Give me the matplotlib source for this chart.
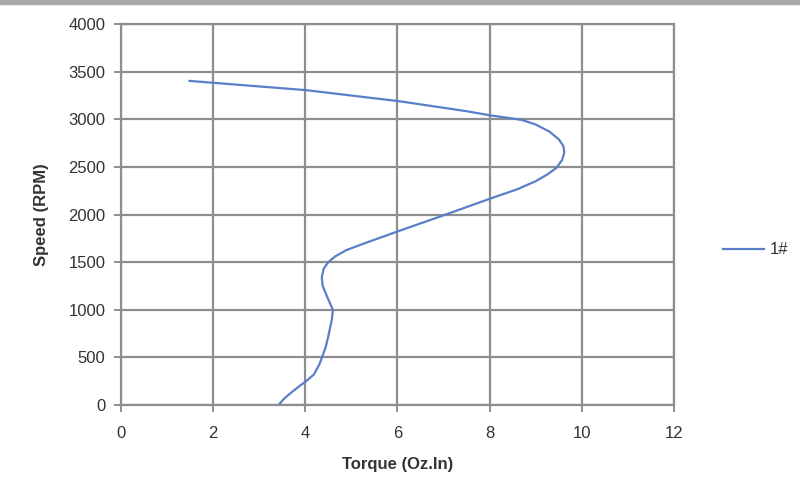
import matplotlib
matplotlib.use("Agg")
import matplotlib.pyplot as plt
from matplotlib.patches import Rectangle

# torque (oz.in) vs speed (rpm)
torque = [1.49, 4.02, 6.05, 7.50, 8.03, 8.40, 8.70, 9.00, 9.30, 9.50,
          9.60, 9.62, 9.57, 9.45, 9.25, 9.00, 8.60, 8.03, 7.05, 6.05,
          5.30, 4.89, 4.65, 4.50, 4.40, 4.36, 4.38, 4.48, 4.60, 4.58,
          4.50, 4.44, 4.31, 4.19, 4.02, 3.88, 3.73, 3.55, 3.42]
speed = [3403, 3306, 3189, 3085, 3040, 3015, 2993, 2945, 2870, 2790,
         2720, 2650, 2570, 2490, 2420, 2350, 2265, 2170, 2000, 1830,
         1700, 1626, 1560, 1500, 1430, 1340, 1250, 1132, 1000, 900,
         720, 601, 429, 321, 250, 200, 143, 70, 0]

x_ticks = [0, 2, 4, 6, 8, 10, 12]
y_ticks = [0, 500, 1000, 1500, 2000, 2500, 3000, 3500, 4000]

plt.rcParams['font.family'] = ['Liberation Sans', 'DejaVu Sans']

grid_col = '#8e8e8e'
text_col = '#333333'

fig = plt.figure(figsize=(8, 4.96), dpi=100)
fig.patches.append(Rectangle((0, 0.991), 1, 0.009, transform=fig.transFigure,
                             color='#a8a8a8', zorder=0))
ax = fig.add_axes([0.151, 0.1835, 0.6915, 0.768])

ax.plot(torque, speed, color='#5a7fc8', lw=1.6, label='1#')

ax.set_xlim(0, 12)
ax.set_ylim(0, 4000)
ax.set_xticks(x_ticks)
ax.set_yticks(y_ticks)
ax.grid(True, color=grid_col, lw=1.6)
ax.set_axisbelow(True)
for s in ax.spines.values():
    s.set_color(grid_col)
    s.set_linewidth(1.6)
ax.tick_params(colors=grid_col, labelcolor=text_col, labelsize=12,
               length=5, width=1.4)
ax.tick_params(axis='x', pad=10)
ax.tick_params(axis='y', pad=6)

ax.set_xlabel('Torque (Oz.In)', fontsize=12, fontweight='bold', color=text_col, labelpad=12)
ax.set_ylabel('Speed (RPM)', fontsize=12, fontweight='bold', color=text_col, labelpad=14)

ax.legend(loc='center left', bbox_to_anchor=(0.895, 0.496),
          bbox_transform=fig.transFigure, frameon=False, fontsize=12,
          handlelength=2.45, handletextpad=0.4, borderaxespad=0,
          labelcolor=text_col)

fig.savefig('out.png', dpi=100)
